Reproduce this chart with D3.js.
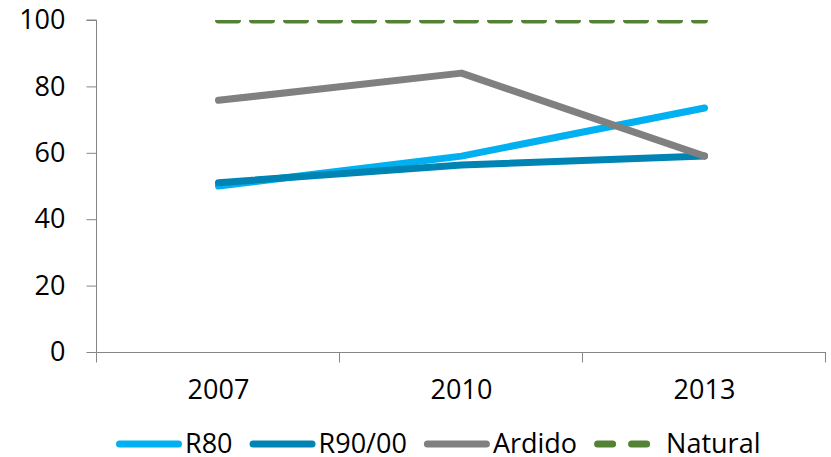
<!DOCTYPE html>
<html>
<head>
<meta charset="utf-8">
<script src="https://cdn.jsdelivr.net/npm/d3@7"></script>
<style>
  html, body { margin: 0; padding: 0; background: #fff; }
  svg { display: block; font-family: "Open Sans", "Noto Sans", sans-serif; }
</style>
</head>
<body>
<svg id="chart" width="831" height="457"></svg>
<script>
// Categories and series
const years = ["2007", "2010", "2013"];
const r80 = [50, 59, 73.5];
const r90 = [51, 56.3, 59];
const ardido = [75.8, 84, 59];
const natural = [100, 100, 100];
const yTicks = [0, 20, 40, 60, 80, 100];

const series = [
  { name: "R80", values: r80, color: "#00B0F0", dashed: false },
  { name: "R90/00", values: r90, color: "#0084B4", dashed: false },
  { name: "Ardido", values: ardido, color: "#808080", dashed: false },
  { name: "Natural", values: natural, color: "#548235", dashed: true }
];

const svg = d3.select("#chart");
const plotLeft = 97, plotRight = 826, plotTop = 20, plotBottom = 352;
const axisColor = "#868686";
const fontSize = 27;

const x = d3.scaleBand().domain(years).range([plotLeft, plotRight]).paddingInner(0).paddingOuter(0);
const y = d3.scaleLinear().domain([0, 100]).range([plotBottom, plotTop]);

// Y axis
const yAxis = svg.append("g").attr("transform", `translate(${plotLeft - 0.5},0)`)
  .call(d3.axisLeft(y).tickValues(yTicks).tickSize(10).tickPadding(21).tickFormat(d3.format("d")));
yAxis.select(".domain").attr("stroke", axisColor).attr("d", `M-10,${y(100)}H0V${y(0)}`);
yAxis.selectAll(".tick line").attr("stroke", axisColor);
yAxis.selectAll(".tick text").attr("fill", "#000").style("font-size", fontSize + "px")
  .style("font-family", "'Open Sans', sans-serif");

// X axis with tick marks at band boundaries
const xAxisG = svg.append("g").attr("transform", `translate(0,${plotBottom + 0.5})`);
xAxisG.append("line").attr("x1", plotLeft - 0.5).attr("x2", plotRight).attr("y1", 0).attr("y2", 0)
  .attr("stroke", axisColor);
const boundaries = years.map(d => x(d)).concat([x(years[years.length - 1]) + x.bandwidth()]);
xAxisG.selectAll("line.b").data(boundaries).join("line").attr("class", "b")
  .attr("x1", d => Math.round(d) - 0.5).attr("x2", d => Math.round(d) - 0.5)
  .attr("y1", 0).attr("y2", 10).attr("stroke", axisColor);
xAxisG.selectAll("text").data(years).join("text")
  .attr("x", d => x(d) + x.bandwidth() / 2)
  .attr("y", 37)
  .attr("dy", "0.35em")
  .attr("text-anchor", "middle")
  .style("font-size", fontSize + "px")
  .attr("fill", "#000")
  .text(d => d);

// Plot area clip
svg.append("clipPath").attr("id", "plotClip").append("rect")
  .attr("x", plotLeft).attr("y", plotTop).attr("width", plotRight - plotLeft).attr("height", plotBottom - plotTop);

const line = d3.line()
  .x((d, i) => x(years[i]) + x.bandwidth() / 2)
  .y(d => y(d));

const plot = svg.append("g").attr("clip-path", "url(#plotClip)");
plot.selectAll("path").data(series).join("path")
  .attr("d", s => line(s.values))
  .attr("fill", "none")
  .attr("stroke", s => s.color)
  .attr("stroke-width", 7)
  .attr("stroke-linecap", "round")
  .attr("stroke-linejoin", "round")
  .attr("stroke-dasharray", s => s.dashed ? "19,15" : null);

// Legend
const legend = svg.append("g").attr("transform", "translate(0,444)");
let cx = 116;
series.forEach(s => {
  const g = legend.append("g");
  g.append("line")
    .attr("x1", cx + 3.5).attr("x2", cx + 66 - 3.5)
    .attr("y1", 0).attr("y2", 0)
    .attr("stroke", s.color).attr("stroke-width", 7)
    .attr("stroke-linecap", "round")
    .attr("stroke-dasharray", s.dashed ? "15,19" : null);
  const t = g.append("text")
    .attr("x", cx + 69 + (s.dashed ? 3 : 0))
    .attr("y", 0).attr("dy", "0.35em")
    .style("font-size", fontSize + "px")
    .attr("fill", "#000")
    .text(s.name);
  const w = t.node().getComputedTextLength();
  cx = cx + 69 + w + 17;
});
</script>
</body>
</html>
